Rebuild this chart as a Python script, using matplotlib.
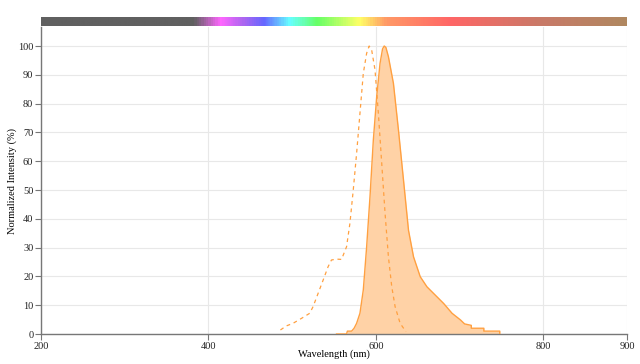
import numpy as np
import matplotlib
matplotlib.use("Agg")
import matplotlib.pyplot as plt
from matplotlib.colors import LinearSegmentedColormap

plt.rcParams['font.family'] = ['Liberation Serif', 'DejaVu Serif']

# emission spectrum (solid, filled)
em_nm = [553, 565, 566, 571, 574, 577, 581, 585, 589, 593, 597, 601, 605, 608, 610,
         612, 615, 621, 627, 633, 639, 645, 653, 661, 671, 681, 691, 701, 706, 714,
         714, 729, 729, 748, 748]
em_val = [0, 0, 1, 1, 2, 3.7, 7.2, 15.3, 30.3, 47.7, 67.4, 82.4, 94, 99, 100,
          99.5, 96.3, 87, 70.8, 53.5, 36, 26.8, 19.9, 16.4, 13.5, 10.6, 7.2, 4.9, 3.5, 3,
          2, 2, 1, 1, 0]

# excitation spectrum (dashed)
ex_nm = [486, 493, 501, 511, 521, 525, 531, 537, 543, 547, 553, 559, 565, 569, 573,
         577, 581, 585, 589, 592, 595, 599, 603, 607, 611, 615, 619, 623, 629, 636]
ex_val = [1.4, 2.8, 3.7, 5.4, 7.2, 9.5, 14.1, 18.7, 23.4, 25.7, 26, 25.9, 30.3, 38.4, 50,
          62.7, 76.6, 90.5, 97.5, 100, 98.6, 91.7, 76.6, 59.3, 41.9, 26.8, 16.4, 9.5, 3.7, 0.8]

x_ticks = [200, 400, 600, 800, 900]
y_ticks = list(range(0, 101, 10))

# colour stops of the spectrum bar (nm, colour)
bar_nm = [200, 382, 414, 440, 466, 497, 530, 581, 613, 690, 800, 900]
bar_col = ['#606060', '#606060', '#ff66ff', '#b066f0', '#6666ff', '#66ffff', '#66ff66',
           '#ffff66', '#ff9966', '#ff6666', '#c87a68', '#b08860']

orange = '#ffa040'
fill_col = '#ffd2a6'

fig = plt.figure(figsize=(6.4, 3.64), dpi=100)
ax = fig.add_axes([41/640, 30/364, 586/640, 307/364])

ax.fill_between(em_nm, em_val, 0, color=fill_col, linewidth=0, zorder=2)
ax.plot(em_nm, em_val, color=orange, linewidth=1.0, zorder=3)
ax.plot(ex_nm, ex_val, color=orange, linewidth=0.9, linestyle=(0, (3, 3)), zorder=3)

ax.set_xlim(200, 900)
ax.set_ylim(0, 106.6)
ax.set_xticks(x_ticks)
ax.set_yticks(y_ticks)
ax.grid(True, color='#e8e8e8', linewidth=0.8, zorder=0)
ax.set_axisbelow(True)
for s in ['top', 'right']:
    ax.spines[s].set_visible(False)
for s in ['left', 'bottom']:
    ax.spines[s].set_color('#777777')
    ax.spines[s].set_linewidth(1.0)
ax.tick_params(colors='#777777', labelcolor='#222222', labelsize=7.5, length=4, width=0.8, pad=1.5)
ax.set_xlabel('Wavelength (nm)', fontsize=7.5, va='center')
ax.set_ylabel('Normalized Intensity (%)', fontsize=7.5, va='center')
ax.xaxis.set_label_coords(0.5, -20/307)
ax.yaxis.set_label_coords(-29/586, 0.5)

# spectrum bar on top
bax = fig.add_axes([41/640, 338/364, 586/640, 9/364])
pos = [(v - 200) / 700 for v in bar_nm]
cmap = LinearSegmentedColormap.from_list('spec', list(zip(pos, bar_col)))
bax.imshow(np.linspace(0, 1, 600)[None, :], aspect='auto', cmap=cmap,
           extent=[200, 900, 0, 1])
bax.set_xlim(200, 900)
bax.axis('off')

fig.savefig('out.png', dpi=100)
